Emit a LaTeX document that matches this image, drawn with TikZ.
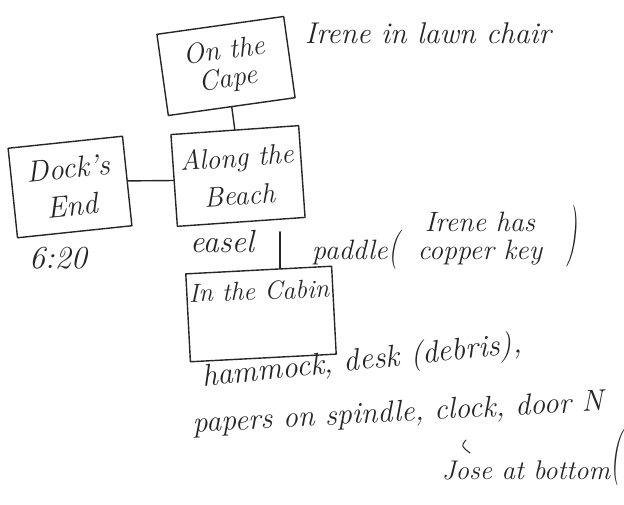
\documentclass[tikz,border=0pt]{standalone}
\usetikzlibrary{calc}
\begin{document}
\begin{tikzpicture}[x=1pt,y=1pt,
  fs/.style={font=\fontsize{#1}{#1}\selectfont\itshape},
  ink/.style={draw=black!85, line width=1.4pt, line join=round, line cap=round},
  place/.style={ink, rectangle, inner sep=0pt, align=center, text=black!85},
  note/.style={text=black!85, inner sep=0pt, align=center}]
\useasboundingbox[fill=white] (0,0) rectangle (624,-505);
% places
\node[place, fs=28, minimum width=128, minimum height=82, rotate=8] (cape) at (226,-66) {On the\\Cape};
\node[place, fs=28, minimum width=128, minimum height=92, rotate=4] (along) at (238,-176) {Along the\\[10pt]Beach};
\node[place, fs=30, minimum width=115, minimum height=90, rotate=6] (dock) at (70,-187) {Dock's\\[8pt]End};
\node[place, minimum width=146, minimum height=88, rotate=3] (cabin) at (261,-314) {};
\node[note, fs=26, rotate=2] (cabintitle) at (259,-291) {In the Cabin};
% connectors
\draw[ink] (cape.south) -- (along.north);
\draw[ink] (dock.east) -- (along.west);
\coordinate (ac) at ($(along.south east)!0.2!(along.south west)$);
\draw[ink, shorten <=12pt, shorten >=1pt] (ac) -- (ac |- cabin.north);
% notes
\node[note, fs=30] (irene) at (428,-33) {Irene in lawn chair};
\node[note, fs=32] (time) at (58,-258) {6:20};
\node[note, fs=32] (easel) at (222,-242) {easel};
\node[note, fs=28] (paddle) at (350,-252) {paddle};
\node[note, fs=28] (lpar) at (394,-250) {\scalebox{1}[1.4]{(}};
\node[note, fs=28] (key) at (480,-239) {Irene has\\copper key};
\node[note, fs=28] (rpar) at (572,-236) {\scalebox{1}[2.2]{)}};
\node[note, fs=31, rotate=6] (items1) at (362,-362) {hammock, desk (debris),};
\node[note, fs=30, rotate=3] (items2) at (398,-414) {papers on spindle, clock, door N};
\node[note, fs=27] (jose) at (526,-470) {Jose at bottom};
\node[note, fs=28] (jpar) at (616,-458) {\scalebox{1}[2]{(}};
\draw[ink, line width=1pt] (466,-440) .. controls (461,-446) .. (470,-453);
\end{tikzpicture}
\end{document}
